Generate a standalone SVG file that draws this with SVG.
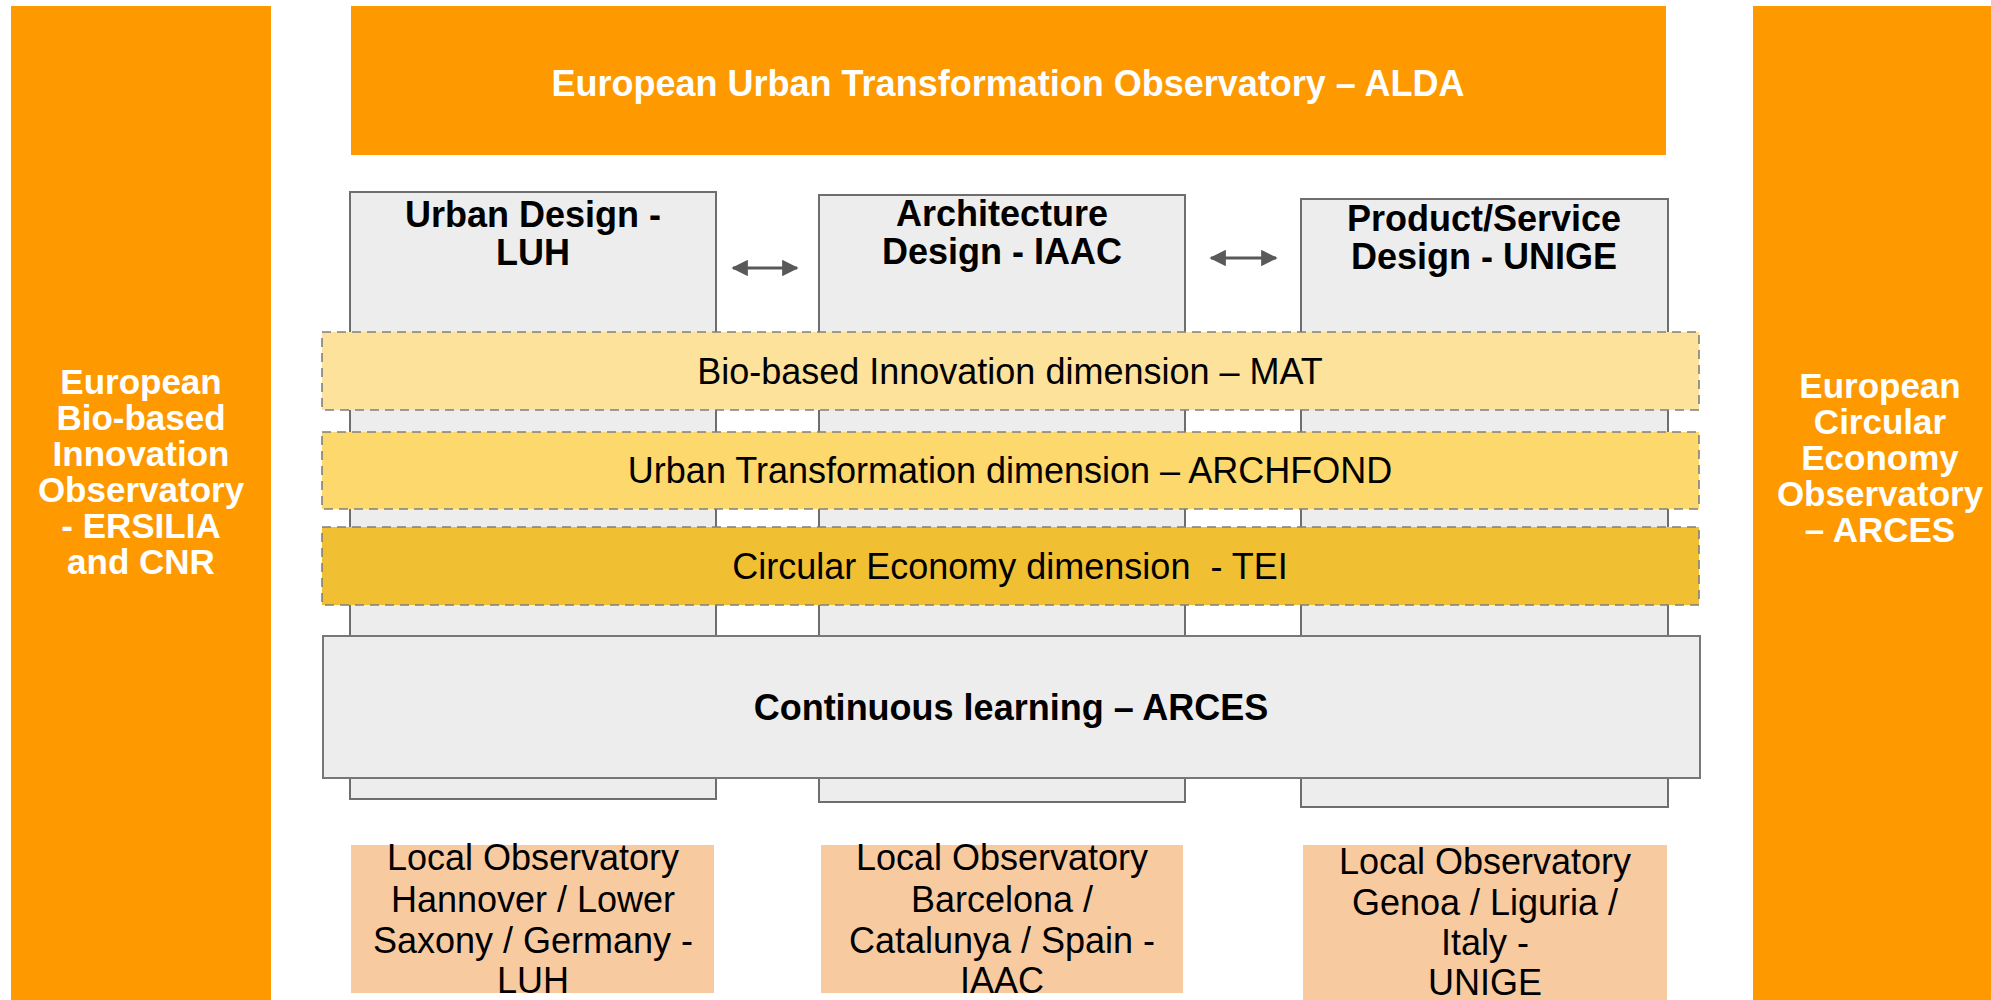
<svg xmlns="http://www.w3.org/2000/svg" width="1991" height="1000" viewBox="0 0 1991 1000">
<style>
text{font-family:"Liberation Sans",Arial,Helvetica,sans-serif;font-size:36px;text-anchor:middle}
.b{font-weight:bold}
.side{font-size:35px}
.w{fill:#ffffff}
.k{fill:#000000}
.orange{fill:#FF9900}
.col{fill:#EDEDED;stroke:#6E6E6E;stroke-width:2}
.band{stroke:#7F7F7F;stroke-width:1.6;stroke-dasharray:9 6}
.local{fill:#F8CAA0}
.conn{stroke:#595959;stroke-width:3;fill:none;marker-start:url(#ah);marker-end:url(#ah)}
</style>
<defs>
<marker id="ah" viewBox="0 0 10 10" refX="9" refY="5" markerWidth="6" markerHeight="5.5" orient="auto-start-reverse" markerUnits="strokeWidth">
<path d="M0,0 L10,5 L0,10 z" fill="#595959"/>
</marker>
</defs>
<rect width="1991" height="1000" fill="#ffffff"/>

<g id="left-observatory">
<rect class="orange" x="11" y="6" width="260" height="1000"/>
<text class="b w side"><tspan x="141" y="394">European</tspan><tspan x="141" y="430">Bio-based</tspan><tspan x="141" y="466">Innovation</tspan><tspan x="141" y="502">Observatory</tspan><tspan x="141" y="538">- ERSILIA</tspan><tspan x="141" y="574">and CNR</tspan></text>
</g>

<g id="right-observatory">
<rect class="orange" x="1753" y="6" width="260" height="1000"/>
<text class="b w side"><tspan x="1880" y="398">European</tspan><tspan x="1880" y="434">Circular</tspan><tspan x="1880" y="470">Economy</tspan><tspan x="1880" y="506">Observatory</tspan><tspan x="1880" y="542">– ARCES</tspan></text>
</g>

<g id="top-observatory">
<rect class="orange" x="351" y="6" width="1315" height="149"/>
<text class="b w" x="1008" y="96">European Urban Transformation Observatory – ALDA</text>
</g>

<g id="urban-design">
<rect class="col" x="350" y="192" width="366" height="607"/>
<text class="b k"><tspan x="533" y="227">Urban Design -</tspan><tspan x="533" y="265">LUH</tspan></text>
</g>

<g id="architecture-design">
<rect class="col" x="819" y="195" width="366" height="607"/>
<text class="b k"><tspan x="1002" y="226">Architecture</tspan><tspan x="1002" y="264">Design - IAAC</tspan></text>
</g>

<g id="product-design">
<rect class="col" x="1301" y="199" width="367" height="608"/>
<text class="b k"><tspan x="1484" y="231">Product/Service</tspan><tspan x="1484" y="269">Design - UNIGE</tspan></text>
</g>

<g id="bio-band">
<rect class="band" x="322" y="332" width="1377" height="78" fill="#FDE29B"/>
<text class="k" x="1010" y="384">Bio-based Innovation dimension – MAT</text>
</g>

<g id="urban-band">
<rect class="band" x="322" y="432" width="1377" height="77" fill="#FDD86C"/>
<text class="k" x="1010" y="483">Urban Transformation dimension – ARCHFOND</text>
</g>

<g id="circular-band">
<rect class="band" x="322" y="527" width="1377" height="78" fill="#F0BF32"/>
<text class="k" x="1010" y="579" xml:space="preserve">Circular Economy dimension  - TEI</text>
</g>

<g id="continuous-learning">
<rect class="col" x="323" y="636" width="1377" height="142" style="stroke:#777777"/>
<text class="b k" x="1011" y="720">Continuous learning – ARCES</text>
</g>

<g id="local-hannover">
<rect class="local" x="351" y="845" width="363" height="148"/>
<text class="k"><tspan x="533" y="870">Local Observatory</tspan><tspan x="533" y="912">Hannover / Lower</tspan><tspan x="533" y="953">Saxony / Germany -</tspan><tspan x="533" y="993">LUH</tspan></text>
</g>

<g id="local-barcelona">
<rect class="local" x="821" y="845" width="362" height="148"/>
<text class="k"><tspan x="1002" y="870">Local Observatory</tspan><tspan x="1002" y="912">Barcelona /</tspan><tspan x="1002" y="953">Catalunya / Spain -</tspan><tspan x="1002" y="993">IAAC</tspan></text>
</g>

<g id="local-genoa">
<rect class="local" x="1303" y="845" width="364" height="160"/>
<text class="k"><tspan x="1485" y="874">Local Observatory</tspan><tspan x="1485" y="915">Genoa / Liguria /</tspan><tspan x="1485" y="955">Italy -</tspan><tspan x="1485" y="995">UNIGE</tspan></text>
</g>

<g id="connectors">
<line class="conn" x1="733" y1="268" x2="797" y2="268"/>
<line class="conn" x1="1211" y1="258" x2="1276" y2="258"/>
</g>
</svg>
